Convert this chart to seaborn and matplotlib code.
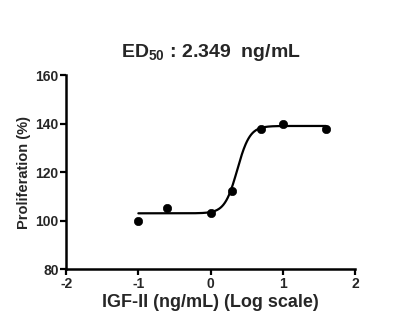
import numpy as np
import pandas as pd
import seaborn as sns
import matplotlib.pyplot as plt

# Data
log_conc = [-1.0, -0.6, 0.0, 0.3, 0.7, 1.0, 1.6]
proliferation = [100.0, 105.3, 103.2, 112.0, 137.8, 139.8, 137.7]

# 4PL fit parameters (ED50 = 2.349 ng/mL)
fit_bottom = 103.0
fit_top = 139.0
fit_log_ec50 = np.log10(2.349)
fit_hill = 5.0
fit_range = [-1.0, 1.6]

x_ticks = [-2, -1, 0, 1, 2]
y_ticks = [80, 100, 120, 140, 160]

sns.set_theme(style="ticks")
plt.rcParams['font.family'] = ['Liberation Sans', 'DejaVu Sans']
plt.rcParams['font.weight'] = 'bold'
plt.rcParams['axes.unicode_minus'] = False
plt.rcParams['mathtext.fontset'] = 'custom'
plt.rcParams['mathtext.rm'] = 'Liberation Sans:bold'
plt.rcParams['mathtext.bf'] = 'Liberation Sans:bold'

fig = plt.figure(figsize=(4.01, 3.29), dpi=100)
ax = fig.add_axes([0.165, 0.182, 0.72, 0.59])

xc = np.linspace(fit_range[0], fit_range[1], 400)
yc = fit_bottom + (fit_top - fit_bottom) / (1 + 10 ** ((fit_log_ec50 - xc) * fit_hill))
sns.lineplot(x=xc, y=yc, ax=ax, color='black', lw=1.6)

df = pd.DataFrame({'x': log_conc, 'y': proliferation})
sns.scatterplot(data=df, x='x', y='y', ax=ax, color='black', s=36, edgecolor='black', zorder=3)

ax.set_xlim(-2, 2)
ax.set_ylim(80, 160)
ax.set_xticks(x_ticks)
ax.set_yticks(y_ticks)
ax.set_xticklabels([str(t) for t in x_ticks], fontweight='bold', fontsize=10)
ax.set_yticklabels([str(t) for t in y_ticks], fontweight='bold', fontsize=10)
ax.tick_params(width=1.6, length=4, pad=1.5, color='black')
for s in ['left', 'bottom']:
    ax.spines[s].set_linewidth(1.8)
    ax.spines[s].set_color('black')
sns.despine(ax=ax)

ax.set_xlabel('IGF-II (ng/mL) (Log scale)', fontsize=13, fontweight='bold', labelpad=2)
ax.set_ylabel('Proliferation (%)', fontsize=10.5, fontweight='bold', labelpad=3)
ax.set_title(r'ED$_{\mathrm{50}}$ : 2.349  ng/mL', fontsize=14, fontweight='bold', pad=13)

fig.savefig('out.png', dpi=100)
